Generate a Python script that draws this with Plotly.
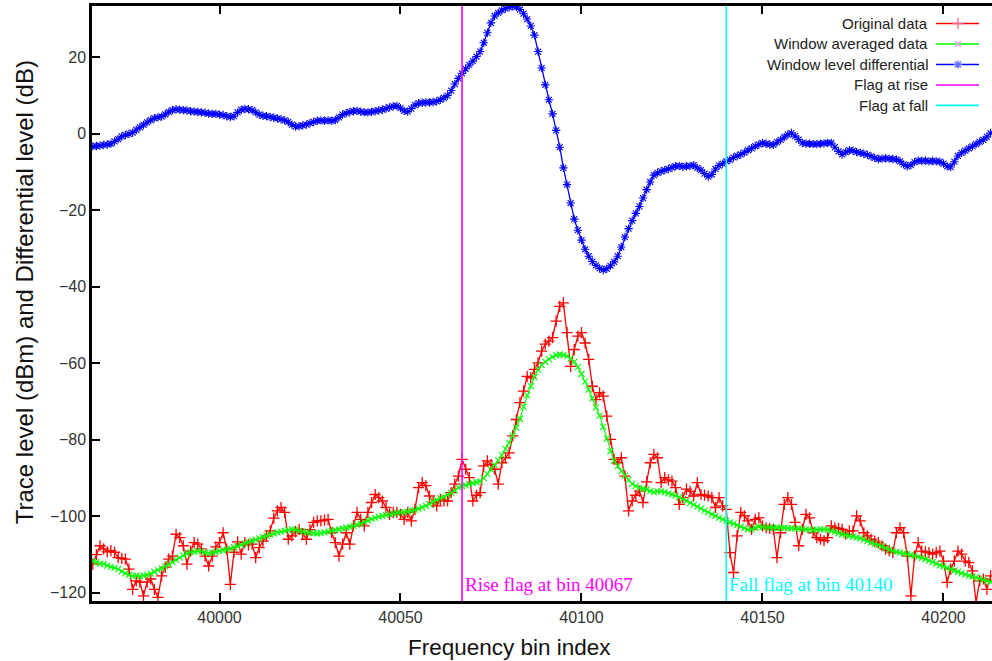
import plotly.graph_objects as go

# Frequency bins and the three traces (dBm / dB)
bins = list(range(39965, 40214))

original = [
    -112.5, -110.0, -107.7, -108.5, -109.3, -109.0, -109.4, -110.8, -111.0, -111.2,
    -113.8, -119.1, -116.9, -117.2, -120.8, -117.2, -116.4, -119.1, -121.2, -115.6,
    -113.3, -111.2, -110.4, -104.7, -105.6, -107.7, -112.5, -109.1, -106.9, -107.3,
    -108.5, -110.4, -113.0, -110.4, -108.0, -106.9, -104.3, -108.6, -117.8, -109.4,
    -106.7, -109.9, -106.9, -107.5, -107.3, -110.8, -108.2, -106.5, -105.1, -103.8,
    -100.5, -98.6, -97.7, -99.0,
    -106.0, -105.1, -104.0, -103.4, -104.5, -106.0, -103.5, -101.6, -101.2, -101.2,
    -101.0, -100.8, -104.3, -106.9, -110.4, -107.3, -104.3, -107.3, -102.5, -99.0,
    -100.8, -102.5, -99.0, -96.4, -94.3, -95.1, -96.0, -97.7, -99.5, -99.0,
    -99.0, -99.5, -100.8, -99.0, -101.2, -98.2, -92.5, -91.2, -92.0, -94.7,
    -96.4, -97.3, -95.6, -96.0, -96.0, -93.8, -91.6, -89.5, -85.1, -87.7,
    -89.9, -96.0, -94.5, -93.8,
    -86.8, -85.5, -86.5, -87.7, -91.6, -86.0, -84.7, -83.4, -79.0, -74.7,
    -70.3, -67.3, -63.4, -63.8, -61.6, -59.9, -56.8, -55.0, -54.2, -53.3,
    -49.0, -45.1, -44.2, -52.0, -60.8, -56.4, -52.9, -52.0, -54.7, -59.0,
    -66.0, -69.5, -67.7, -68.6, -73.8, -79.9, -85.1, -86.0, -84.7, -89.5,
    -98.6, -96.0, -94.5, -93.4, -96.4, -91.0, -86.0, -83.8, -84.7,
    -91.2, -89.9, -90.5, -90.8, -92.5, -96.9, -95.1, -92.9, -93.5, -94.7,
    -91.2, -94.3, -94.5, -94.7, -95.1, -97.7, -95.1, -97.3, -98.2, -109.5,
    -114.7, -105.1, -99.0, -99.9, -101.2, -103.4, -100.8, -100.4, -102.5, -103.0,
    -103.2, -103.4, -110.8, -104.3, -96.9, -95.1, -96.9, -101.6, -107.7, -103.4,
    -99.5, -100.4, -104.3,
    -105.6, -106.0, -106.4, -105.6, -102.5, -103.0, -103.2, -103.4, -104.7, -103.8,
    -103.8, -99.9, -101.2, -104.3, -105.1, -106.0, -106.5, -106.9, -107.7, -108.6,
    -109.0, -109.5, -104.3, -103.0, -104.3, -110.4, -120.8, -110.4, -106.9, -109.1,
    -109.3, -109.5, -109.9, -109.5, -109.1, -111.7, -117.3, -113.8, -111.7, -109.1,
    -109.9, -111.7, -112.1, -114.3, -122.5, -116.9, -116.4, -119.1, -115.6,
]

averaged = [
    -111.8, -112.0, -112.4, -112.5, -112.9, -113.2, -113.5, -113.8, -114.4, -114.9,
    -115.3, -115.6, -115.5, -115.7, -115.5, -115.3, -115.0, -114.5, -114.1, -113.6,
    -113.1, -112.6, -112.0, -111.4, -110.8, -110.2, -109.8, -109.4, -109.3, -109.1,
    -109.2, -109.5, -109.7, -109.5, -109.3, -109.1, -108.9, -108.7, -108.5, -108.1,
    -107.8, -107.5, -107.1, -106.8, -106.4, -106.1, -105.8, -105.4, -105.1, -104.8,
    -104.5, -104.2, -104.0, -103.8, -103.6, -103.4, -103.5, -103.8, -104.0, -104.2,
    -104.3, -104.4, -104.5, -104.4, -104.2, -104.0, -103.8, -103.6, -103.4, -103.2,
    -103.0, -102.8, -102.5, -102.2, -101.9, -101.5, -101.1, -100.7, -100.4, -100.1,
    -99.9, -99.7, -99.5, -99.3, -99.1, -99.0, -98.9, -98.8, -98.6, -98.3,
    -98.0, -97.7, -97.3, -96.8, -96.2, -95.7, -95.3, -94.9, -94.4, -93.9,
    -93.2, -92.5, -92.1, -91.9, -91.6, -91.3, -91.1, -90.9, -90.0, -88.9,
    -87.8, -86.6, -85.4, -84.0, -82.4, -80.8, -78.9, -76.8, -74.5, -71.4,
    -68.4, -66.0, -63.6, -61.7, -60.5, -59.6, -58.9, -58.3, -57.9, -57.7,
    -57.8, -58.1, -58.8, -59.6, -61.0, -62.8, -64.8, -66.9, -69.2, -71.5,
    -73.7, -76.6, -79.7, -83.0, -85.5, -86.9, -88.2, -89.4, -90.5, -91.5,
    -92.1, -92.6, -92.8, -93.0, -93.4, -93.7, -93.5, -93.5, -93.7, -94.0,
    -94.3, -94.6, -95.0, -95.5, -96.0, -96.5, -97.0, -97.5, -98.0, -98.5,
    -99.0, -99.5, -99.9, -100.4, -100.8, -101.2, -101.6, -101.9, -102.3, -102.7,
    -103.1, -103.5, -103.4, -103.0, -102.7, -102.8, -102.9, -103.0, -103.0, -103.0,
    -103.0, -103.0, -103.1, -103.1, -103.2, -103.2, -103.3, -103.4, -103.5, -103.6,
    -103.5, -103.4, -103.4, -103.5, -103.8, -104.1, -104.4, -104.7, -104.9, -105.1,
    -105.3, -105.5, -105.7, -106.1, -106.5, -106.9, -107.2, -107.5, -107.9, -108.3,
    -108.7, -109.1, -109.3, -109.5, -109.7, -109.9, -110.1, -110.3, -110.6, -110.9,
    -111.2, -111.6, -112.0, -112.4, -112.8, -113.1, -113.5, -113.8, -114.2, -114.5,
    -114.9, -115.2, -115.5, -115.8, -116.0, -116.3, -116.6, -116.9, -117.2,
]

differential = [
    -3.3, -3.2, -3.1, -2.9, -2.8, -2.6, -2.0, -1.4, -0.7, -0.3,
    0.0, 0.3, 1.0, 1.7, 2.3, 3.0, 3.6, 4.1, 4.3, 4.5,
    5.1, 5.7, 6.2, 6.4, 6.3, 6.2, 6.1, 5.9, 5.8, 5.7,
    5.6, 5.5, 5.3, 5.2, 5.2, 5.0, 4.9, 4.6, 4.4, 4.6,
    5.6, 6.3, 6.5, 6.4, 6.2, 5.6, 5.0, 4.7, 4.6, 4.4,
    4.2, 4.0, 3.8, 3.5, 3.1, 2.4, 1.9, 2.0, 2.2, 2.4,
    2.8, 3.1, 3.4, 3.5, 3.4, 3.5, 3.4, 3.6, 4.3, 5.0,
    5.4, 5.7, 5.9, 6.0, 5.8, 5.6, 5.6, 5.7, 5.9, 6.1,
    6.3, 6.6, 6.9, 7.2, 7.3, 6.7, 6.0, 5.8, 6.6, 7.5,
    8.0, 8.1, 8.2, 8.2, 8.3, 8.5, 8.9, 9.4, 10.0, 11.3,
    13.0, 14.5, 15.8, 17.0, 18.0, 19.0, 20.2, 21.5, 23.8, 26.4,
    29.0, 30.8, 31.6, 32.3, 32.8, 33.1, 33.3, 33.2, 32.5, 31.4,
    30.0, 28.2, 25.8, 21.5, 17.2, 12.8, 8.9, 5.2, 0.9, -3.5,
    -8.9, -13.3, -18.1, -22.3, -25.2, -27.8, -30.2, -32.0, -33.4, -34.4,
    -35.2, -35.6, -35.3, -34.5, -33.5, -32.0, -29.6, -27.0, -24.8, -22.7,
    -20.8, -19.0, -16.8, -14.6, -12.6, -10.8, -10.2, -9.8, -9.5, -9.2,
    -8.8, -8.5, -8.4, -8.6, -8.5, -8.4, -8.2, -8.9, -9.5, -10.4,
    -11.2, -10.6, -9.2, -8.3, -7.8, -7.2, -6.8, -6.2, -5.8, -5.4,
    -4.9, -4.3, -3.8, -3.2, -2.8, -2.4, -2.6, -2.8, -2.9, -2.2,
    -1.6, -0.9, -0.2, 0.2, -0.6, -1.5, -2.4, -2.6, -2.6, -2.7,
    -2.7, -2.6, -2.5, -2.4, -2.4, -3.5, -4.6, -5.4, -4.8, -4.3,
    -4.4, -4.8, -5.0, -5.2, -5.5, -5.9, -6.3, -6.6, -6.5, -6.4,
    -6.5, -6.6, -6.7, -7.2, -8.0, -8.5, -8.2, -7.4, -7.0, -7.1,
    -7.0, -7.2, -7.1, -7.2, -7.3, -7.8, -8.5, -8.7, -7.3, -5.8,
    -5.0, -4.4, -3.8, -3.3, -2.7, -2.1, -1.6, -0.8, 0.2,
]

rise_bin = 40067
fall_bin = 40140

x_ticks = [40000, 40050, 40100, 40150, 40200]
x_tick_labels = ["40000", "40050", "40100", "40150", "40200"]
y_ticks = [-120, -100, -80, -60, -40, -20, 0, 20]

series_names = [
    "Original data",
    "Window averaged data",
    "Window level differential",
    "Flag at rise",
    "Flag at fall",
]

assert len(original) == len(bins)
assert len(averaged) == len(bins)
assert len(differential) == len(bins)

RED, GREEN, BLUE = "#ff0000", "#00ff00", "#0000ff"
MAGENTA, CYAN = "#ff00ff", "#00ffff"
X_RANGE = [39964.78, 40213.4]
Y_RANGE = [-122.15, 33.41]

W, H = 992, 661
M_L, M_R, M_T, M_B = 92, 0, 5.5, 60

fig = go.Figure()

fig.add_trace(go.Scatter(
    x=bins, y=original, name=series_names[0], mode="lines+markers",
    line=dict(color=RED, width=1.3),
    marker=dict(symbol="cross-thin-open", size=8, line=dict(color=RED, width=1.3)),
))
fig.add_trace(go.Scatter(
    x=bins, y=averaged, name=series_names[1], mode="lines+markers",
    line=dict(color=GREEN, width=1.1),
    marker=dict(symbol="x-thin-open", size=6, line=dict(color=GREEN, width=1.1)),
))
fig.add_trace(go.Scatter(
    x=bins, y=differential, name=series_names[2], mode="lines+markers",
    line=dict(color=BLUE, width=1.3),
    marker=dict(symbol="asterisk-open", size=7, line=dict(color=BLUE, width=1.1)),
))
fig.add_trace(go.Scatter(
    x=[rise_bin, rise_bin], y=Y_RANGE, name=series_names[3], mode="lines",
    line=dict(color=MAGENTA, width=1.6),
))
fig.add_trace(go.Scatter(
    x=[fall_bin, fall_bin], y=Y_RANGE, name=series_names[4], mode="lines",
    line=dict(color=CYAN, width=1.6),
))

# Key: text right-aligned, sample line to its right (drawn on a pixel-scaled overlay)
key_rows = [23, 43.5, 64, 84.5, 105]
key_styles = [
    (RED, "cross-thin-open", 8),
    (GREEN, "x-thin-open", 6),
    (BLUE, "asterisk-open", 7),
    (MAGENTA, None, 0),
    (CYAN, None, 0),
]
annotations = []
for name, row, (col, sym, size) in zip(series_names, key_rows, key_styles):
    fig.add_trace(go.Scatter(
        x=[936, 979], y=[row, row], mode="lines", xaxis="x2", yaxis="y2",
        line=dict(color=col, width=1.6), hoverinfo="skip", showlegend=False,
    ))
    if sym:
        fig.add_trace(go.Scatter(
            x=[958], y=[row], mode="markers", xaxis="x2", yaxis="y2",
            marker=dict(symbol=sym, size=size, line=dict(color=col, width=1.3)),
            hoverinfo="skip", showlegend=False,
        ))
    annotations.append(dict(
        x=930, y=row, xref="x2", yref="y2", text=name, showarrow=False,
        xanchor="right", yanchor="middle",
        font=dict(family="Liberation Sans", size=15, color="#222222"),
    ))

# Flag labels along the bottom
annotations.append(dict(
    x=rise_bin, y=-117.9, xref="x", yref="y", text=f"Rise flag at bin {rise_bin}",
    showarrow=False, xanchor="left", yanchor="middle", xshift=1,
    font=dict(family="Liberation Serif", size=19, color=MAGENTA),
))
annotations.append(dict(
    x=fall_bin, y=-117.9, xref="x", yref="y", text=f"Fall flag at bin {fall_bin}",
    showarrow=False, xanchor="left", yanchor="middle", xshift=1,
    font=dict(family="Liberation Serif", size=19, color=CYAN),
))

# Axis titles
plot_w = W - M_L - M_R
plot_h = H - M_T - M_B
annotations.append(dict(
    x=(509 - M_L) / plot_w, y=(H - M_B - 648) / plot_h, xref="paper", yref="paper",
    text="Frequency bin index", showarrow=False, xanchor="center", yanchor="middle",
    font=dict(family="Liberation Sans", size=22.5, color="#111111"),
))
annotations.append(dict(
    x=(24 - M_L) / plot_w, y=(H - M_B - 292) / plot_h, xref="paper", yref="paper",
    text="Trace level (dBm) and Differential level (dB)", showarrow=False,
    textangle=-90, xanchor="center", yanchor="middle",
    font=dict(family="Liberation Sans", size=24, color="#111111"),
))

axis_common = dict(
    showgrid=False, zeroline=False, showline=True, linecolor="black", linewidth=2.5,
    ticks="inside", ticklen=8, tickwidth=2, tickcolor="black",
    tickfont=dict(family="Liberation Sans", size=16, color="#333333"),
)

fig.update_layout(
    width=W, height=H,
    margin=dict(l=M_L, r=M_R, t=M_T, b=M_B, pad=0),
    paper_bgcolor="white", plot_bgcolor="white",
    showlegend=False,
    xaxis=dict(range=X_RANGE, tickvals=x_ticks, ticktext=x_tick_labels,
               mirror="ticks", **axis_common),
    yaxis=dict(range=Y_RANGE, tickvals=y_ticks, mirror=False, **axis_common),
    xaxis2=dict(range=[M_L, W - M_R], overlaying="x", visible=False, fixedrange=True),
    yaxis2=dict(range=[H - M_B, M_T], overlaying="y", visible=False, fixedrange=True),
    annotations=annotations,
)

fig.write_html("out.html")
